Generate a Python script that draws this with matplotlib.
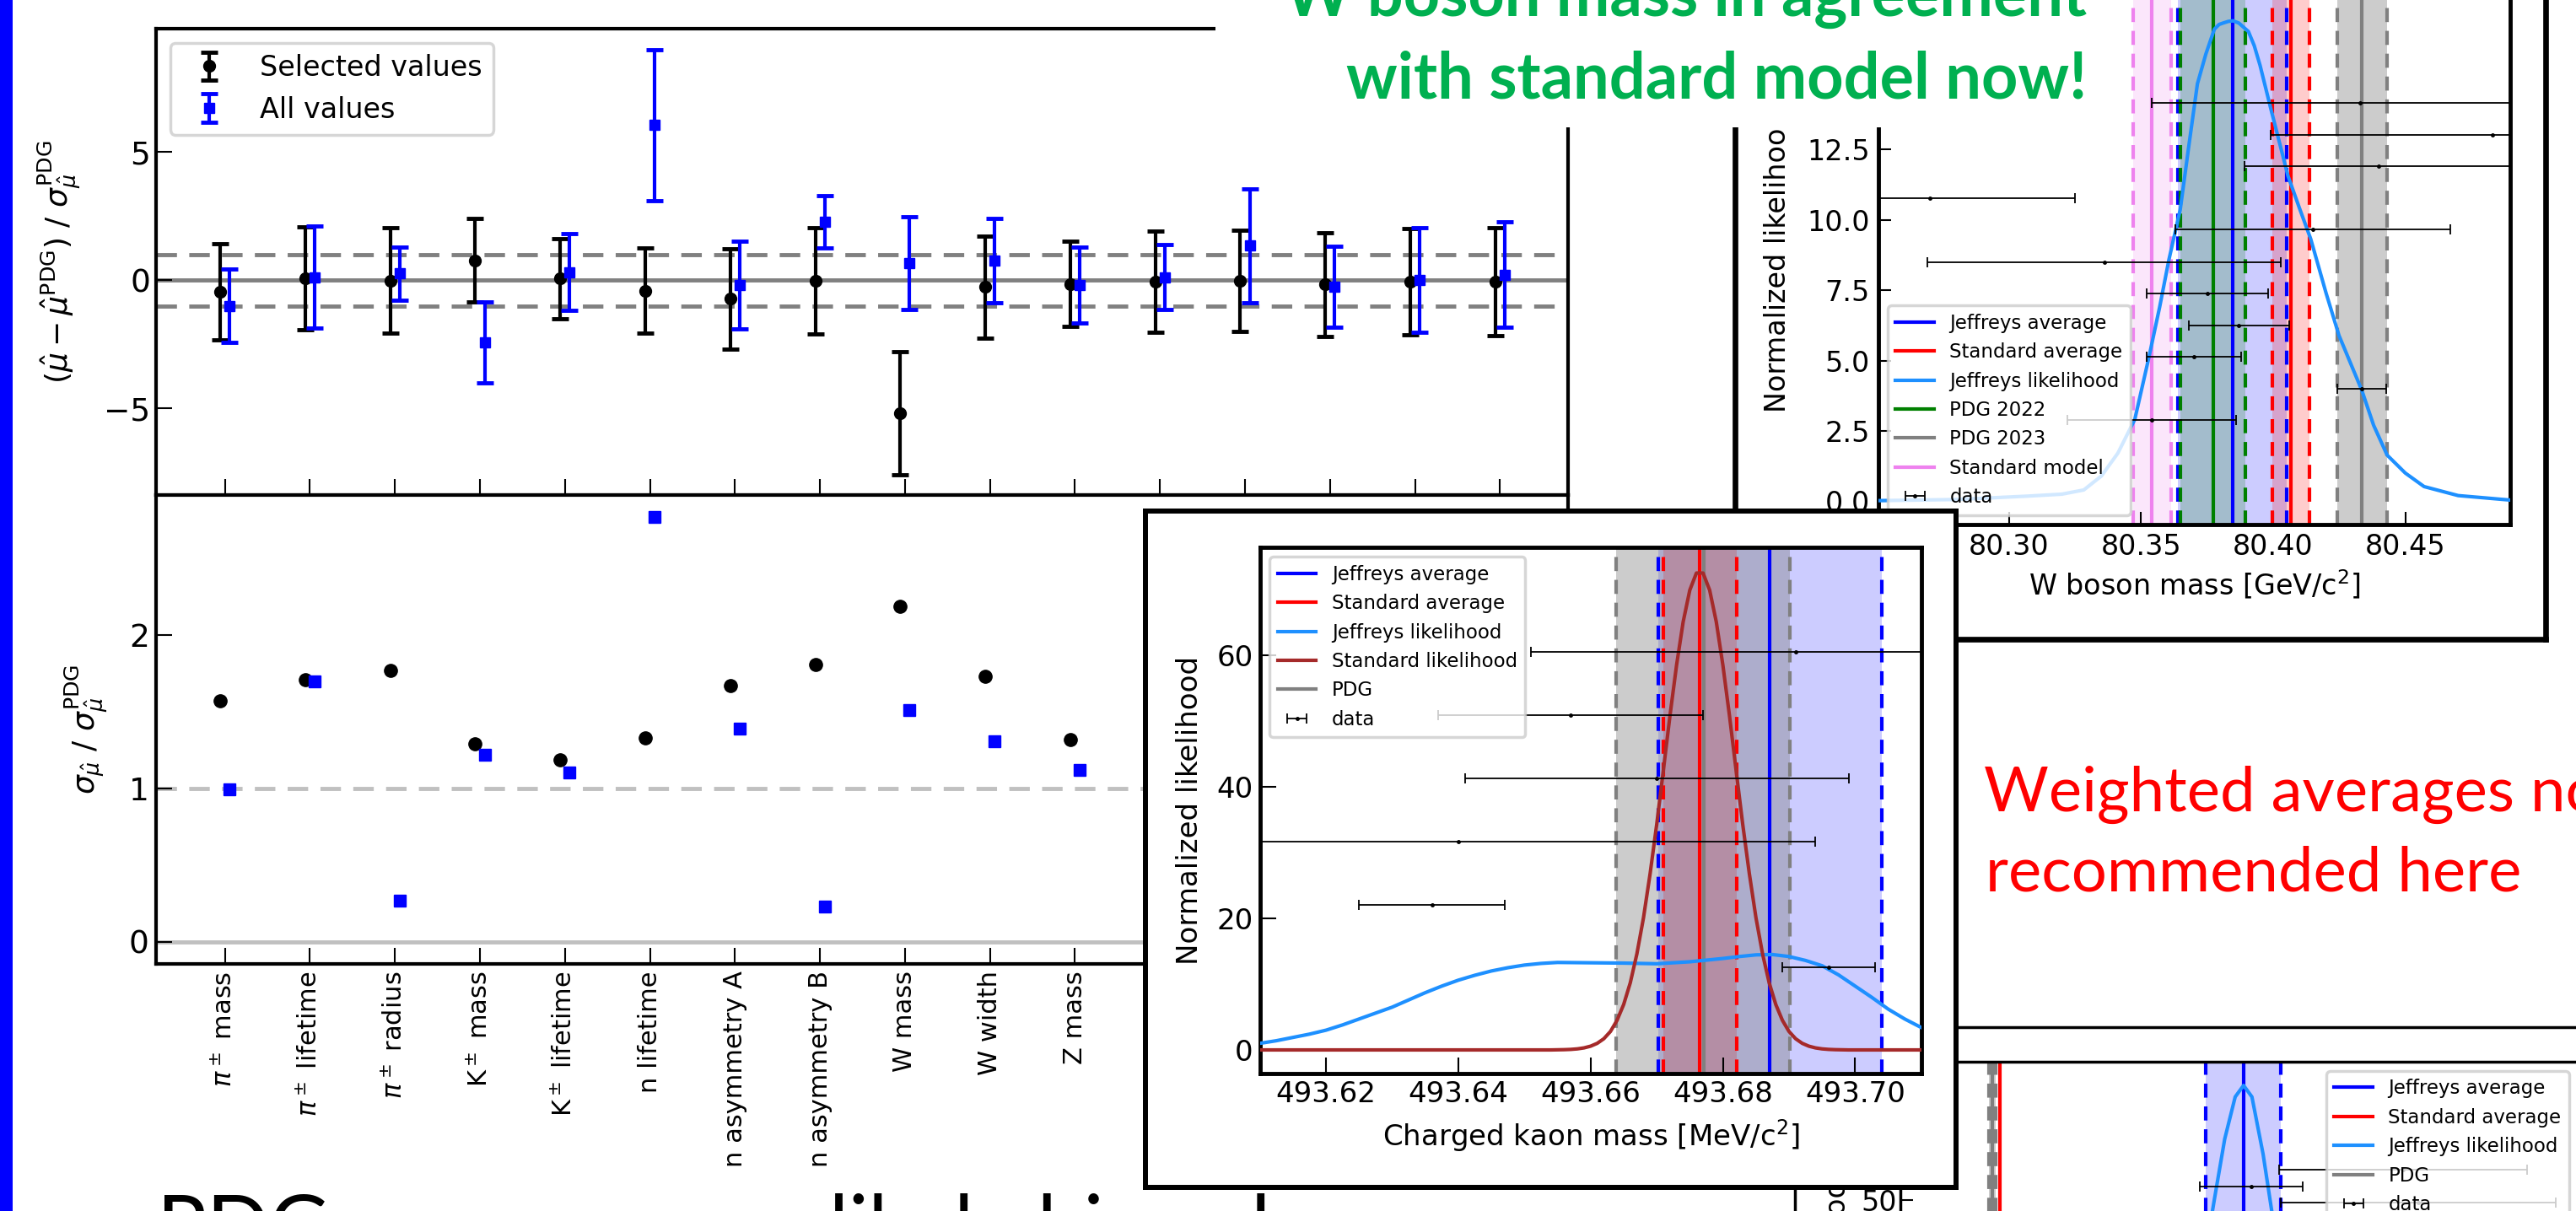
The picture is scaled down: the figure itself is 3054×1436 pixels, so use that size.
import matplotlib
matplotlib.use('Agg')
import matplotlib.pyplot as plt
from matplotlib.patches import Rectangle
from matplotlib.ticker import MultipleLocator, FormatStrFormatter
import numpy as np

plt.rcParams['font.family'] = ['DejaVu Sans']

# ---------------- data: residual panels ----------------
categories = [r'$\pi^\pm$ mass', r'$\pi^\pm$ lifetime', r'$\pi^\pm$ radius', r'K$^\pm$ mass',
              r'K$^\pm$ lifetime', 'n lifetime', 'n asymmetry A', 'n asymmetry B',
              'W mass', 'W width', 'Z mass', '', '', '', '', '']
res_sel = [-0.46, 0.08, -0.02, 0.77, 0.06, -0.41, -0.73, -0.02, -5.18, -0.27, -0.14, -0.05, -0.03, -0.17, -0.05, -0.06]
res_sel_err = [1.87, 2.00, 2.05, 1.63, 1.55, 1.66, 1.96, 2.06, 2.41, 1.99, 1.66, 1.98, 1.98, 2.02, 2.07, 2.11]
res_all = [-1.00, 0.11, 0.26, -2.42, 0.31, 6.05, -0.18, 2.27, 0.67, 0.76, -0.19, 0.12, 1.34, -0.25, 0.00, 0.22]
res_all_err = [1.43, 1.99, 1.04, 1.58, 1.50, 2.94, 1.71, 1.02, 1.81, 1.64, 1.49, 1.27, 2.21, 1.58, 2.03, 2.04]
ratio_sel = [1.57, 1.71, 1.77, 1.29, 1.19, 1.33, 1.67, 1.81, 2.19, 1.73, 1.32]
ratio_all = [0.995, 1.70, 0.27, 1.22, 1.105, 2.77, 1.39, 0.23, 1.51, 1.31, 1.12]

# ---------------- data: W boson mass ----------------
w_meas = [80.433, 80.483, 80.440, 80.270, 80.415, 80.336, 80.375, 80.387, 80.370, 80.4335, 80.354]
w_meas_err = [0.079, 0.084, 0.051, 0.055, 0.052, 0.067, 0.023, 0.019, 0.018, 0.0094, 0.032]
w_meas_y = [14.17, 13.02, 11.90, 10.78, 9.65, 8.50, 7.38, 6.26, 5.14, 4.00, 2.89]
w_like_x = [80.2504, 80.2800, 80.3069, 80.3200, 80.3283, 80.3350, 80.3412, 80.3476, 80.3500, 80.3530,
            80.3570, 80.3605, 80.3648, 80.3680, 80.3713, 80.3745, 80.3777, 80.3795, 80.3810, 80.3830,
            80.3848, 80.3870, 80.3906, 80.3928, 80.3950, 80.3991, 80.4056, 80.4100, 80.4142, 80.4200,
            80.4249, 80.4335, 80.4380, 80.4431, 80.4500, 80.4571, 80.4700, 80.4897]
w_like_y = [0.02, 0.06, 0.18, 0.25, 0.40, 0.9, 1.71, 2.91, 3.9, 5.14,
            6.9, 8.58, 10.37, 12.6, 14.84, 15.9, 16.78, 16.95, 17.0, 17.06,
            17.08, 17.0, 16.70, 16.2, 15.5, 13.95, 11.56, 10.4, 9.32, 7.4,
            5.89, 3.95, 2.7, 1.64, 1.0, 0.52, 0.2, 0.04]
w_sm = [80.3541, 80.3470, 80.3612]      # centre, low, high
w_jeff = [80.3848, 80.3640, 80.4052]
w_pdg22 = [80.3773, 80.3648, 80.3895]
w_std = [80.4067, 80.3998, 80.4137]
w_pdg23 = [80.4335, 80.4243, 80.4431]
w_xticks = [80.30, 80.35, 80.40, 80.45]

# ---------------- data: charged kaon mass ----------------
k_meas = [493.691, 493.657, 493.670, 493.640, 493.636, 493.696]
k_meas_err = [0.040, 0.020, 0.029, 0.054, 0.011, 0.007]
k_meas_y = [60.5, 50.9, 41.3, 31.7, 22.1, 12.5]
k_jeff_like_x = [493.610, 493.6125, 493.615, 493.6175, 493.620, 493.6225, 493.625, 493.6275, 493.630, 493.6325,
                 493.635, 493.6375, 493.640, 493.6425, 493.645, 493.6475, 493.650, 493.6525, 493.655, 493.660,
                 493.665, 493.670, 493.675, 493.680, 493.6825, 493.685, 493.6875, 493.690, 493.6925, 493.695,
                 493.6975, 493.700, 493.7025, 493.705, 493.7075, 493.710]
k_jeff_like_y = [1.0, 1.4, 1.9, 2.4, 3.0, 3.8, 4.7, 5.6, 6.5, 7.6,
                 8.7, 9.7, 10.6, 11.35, 12.0, 12.5, 12.9, 13.15, 13.3, 13.25,
                 13.2, 13.1, 13.4, 13.9, 14.2, 14.45, 14.5, 14.2, 13.6, 12.8,
                 11.4, 9.7, 8.0, 6.2, 4.7, 3.4]
k_std_like_x = [493.610, 493.654, 493.655, 493.656, 493.657, 493.658, 493.659, 493.660, 493.661, 493.662,
                493.663, 493.664, 493.665, 493.666, 493.667, 493.668, 493.669, 493.670, 493.671, 493.672,
                493.673, 493.674, 493.675, 493.676, 493.677, 493.678, 493.679, 493.680, 493.681, 493.682,
                493.683, 493.684, 493.685, 493.686, 493.687, 493.688, 493.689, 493.690, 493.691, 493.692,
                493.693, 493.694, 493.695, 493.696, 493.697, 493.698, 493.699, 493.710]
k_std_like_y = [0.0, 0.0, 0.02, 0.04, 0.08, 0.16, 0.31, 0.57, 1.0, 1.7,
                2.8, 4.5, 6.9, 10.2, 14.6, 20.1, 26.8, 34.3, 42.5, 50.8,
                58.5, 65.1, 69.9, 72.5, 72.5, 69.9, 65.1, 58.5, 50.8, 42.5,
                34.3, 26.8, 20.1, 14.6, 10.2, 6.9, 4.5, 2.8, 1.7, 1.0,
                0.57, 0.31, 0.16, 0.08, 0.04, 0.02, 0.0, 0.0]
k_jeff = [493.6871, 493.6702, 493.7040]
k_std = [493.6765, 493.6710, 493.6821]
k_pdg = [493.6771, 493.6639, 493.6901]
k_xticks = [493.62, 493.64, 493.66, 493.68, 493.70]
k_yticks = [0, 20, 40, 60]

# ---------------- data: bottom-right panel (mostly off-slide) ----------------
b_meas = [72.1, 50.3, 74.2]
b_meas_err = [17.8, 7.4, 19.7]
b_meas_y = [57.9, 53.5, 49.3]
b_like_x = [30, 38, 41, 43, 45, 46.5, 48, 49.2, 50.4, 52, 53.5, 55.5, 58, 66]
b_like_y = [0, 3, 12, 28, 50, 66, 77, 80, 77, 62, 44, 22, 6, 0]
b_jeff = [49.2, 43.8, 54.5]
b_std = 14.3
b_pdg = [13.2, 12.7, 13.7]

# ---------------- slide text ----------------
green_lines = ['W boson mass in agreement', 'with standard model now!']
red_lines = ['Weighted averages not', 'recommended here']
bottom_line = 'PDG averages are likely biased'

# ================= layout helpers =================
W_PX, H_PX, DPI = 3054, 1436, 100
fig = plt.figure(figsize=(W_PX / DPI, H_PX / DPI), dpi=DPI, facecolor='white')


def box(x0, y0, x1, y1):
    return [x0 / W_PX, 1 - y1 / H_PX, (x1 - x0) / W_PX, (y1 - y0) / H_PX]


DASH = (0, (4, 2.5))


def style_axes(ax, spine_lw, tick_len, label_size, pad):
    for s in ax.spines.values():
        s.set_linewidth(spine_lw)
    ax.tick_params(direction='in', length=tick_len, width=1.5, labelsize=label_size, pad=pad)


def frame(rect, lw, z):
    f = fig.add_axes(rect)
    f.set_zorder(z)
    f.set_xticks([])
    f.set_yticks([])
    f.set_facecolor('white')
    for s in f.spines.values():
        s.set_linewidth(lw)
    return f


def band(ax, vals, color, alpha, label):
    c, lo, hi = vals
    ax.axvspan(lo, hi, color=color, alpha=alpha, lw=0, zorder=1)
    ax.axvline(lo, color=color, ls=DASH, lw=3, zorder=2)
    ax.axvline(hi, color=color, ls=DASH, lw=3, zorder=2)
    return ax.axvline(c, color=color, lw=3, zorder=2, label=label)


def style_legend(leg):
    leg.get_frame().set_linewidth(2.5)
    leg.get_frame().set_edgecolor('0.8')


# ================= residual figure (left) =================
ax_top = fig.add_axes(box(185, 34, 1859, 587))
ax_top.set_zorder(1)
ax_bot = fig.add_axes(box(185, 587, 1859, 1143), sharex=ax_top)
ax_bot.set_zorder(1)
x_idx = np.arange(len(categories))
off = 0.055

ax_top.axhline(0, color='gray', lw=3.5, zorder=1)
for v in (-1, 1):
    ax_top.axhline(v, color='gray', lw=3.5, ls=(0, (5, 3)), zorder=1)
ax_top.errorbar(x_idx - off, res_sel, yerr=res_sel_err, fmt='o', color='black', ms=10,
                elinewidth=3, capsize=7.5, capthick=3.5, label='Selected values', zorder=3)
ax_top.errorbar(x_idx + off, res_all, yerr=res_all_err, fmt='s', color='blue', ms=9,
                elinewidth=3, capsize=7.5, capthick=3.5, label='All values', zorder=4)
ax_top.set_xlim(-0.81, 15.80)
ax_top.set_ylim(-8.37, 9.80)
ax_top.set_yticks([-5, 0, 5])
style_axes(ax_top, 3, 14, 27, 5)
ax_top.tick_params(labelbottom=False)
ax_top.set_ylabel(r'$(\hat{\mu} - \hat{\mu}^{\mathrm{PDG}})\ /\ \sigma_{\hat{\mu}}^{\mathrm{PDG}}$', fontsize=26)
ax_top.yaxis.set_label_coords(-0.052, 0.5)
leg = ax_top.legend(loc='upper left', fontsize=24, framealpha=0.8)
style_legend(leg)

ax_bot.axhline(0, color='silver', lw=3.5, zorder=1)
ax_bot.axhline(1, color='silver', lw=3.5, ls=(0, (5, 3)), zorder=1)
xr = np.arange(len(ratio_sel))
ax_bot.plot(xr - off, ratio_sel, 'o', color='black', ms=11, zorder=3)
ax_bot.plot(xr + off, ratio_all, 's', color='blue', ms=10, zorder=4)
ax_bot.set_ylim(-0.143, 2.914)
ax_bot.set_yticks([0, 1, 2])
ax_bot.set_xticks(x_idx)
ax_bot.set_xticklabels(categories, rotation=90)
style_axes(ax_bot, 3, 14, 27, 6)
ax_bot.tick_params(axis='x', labelsize=22)
ax_bot.set_ylabel(r'$\sigma_{\hat{\mu}}\ /\ \sigma_{\hat{\mu}}^{\mathrm{PDG}}$', fontsize=26)
ax_bot.yaxis.set_label_coords(-0.033, 0.5)

# ================= W boson figure (top right) =================
frame(box(2057, -40, 3018, 758), 4.8, 2)
wa = fig.add_axes(box(2226.5, -3, 2976, 622))
wa.set_zorder(3)
h_sm = band(wa, w_sm, 'violet', 0.2, 'Standard model')
h_wj = band(wa, w_jeff, 'blue', 0.2, 'Jeffreys average')
h_p22 = band(wa, w_pdg22, 'green', 0.2, 'PDG 2022')
h_ws = band(wa, w_std, 'red', 0.2, 'Standard average')
h_p23 = band(wa, w_pdg23, 'gray', 0.4, 'PDG 2023')
h_wl, = wa.plot(w_like_x, w_like_y, color='dodgerblue', lw=3, zorder=3, label='Jeffreys likelihood')
h_wd = wa.errorbar(w_meas, w_meas_y, xerr=w_meas_err, fmt='.', color='black', ms=5,
                   elinewidth=1.3, capsize=4.5, capthick=1.3, zorder=4, label='data')
wa.set_xlim(80.2504, 80.4897)
wa.set_ylim(-0.83, 17.91)
wa.set_xticks(w_xticks)
wa.xaxis.set_major_formatter(FormatStrFormatter('%.2f'))
wa.yaxis.set_major_locator(MultipleLocator(2.5))
wa.yaxis.set_major_formatter(FormatStrFormatter('%.1f'))
style_axes(wa, 3.5, 11, 24, 7)
wa.set_xlabel(r'W boson mass [GeV/c$^2$]', fontsize=24)
wa.xaxis.set_label_coords(0.5, -0.082)
wa.set_ylabel('Normalized likelihood', fontsize=24)
wa.yaxis.set_label_coords(-0.137, 0.5)
leg = wa.legend(handles=[h_wj, h_ws, h_wl, h_p22, h_p23, h_sm, h_wd], loc='lower left',
                fontsize=16.5, framealpha=0.8)
style_legend(leg)

# ================= bottom-right figure (mostly off-slide) =================
frame(box(2128, 1218, 3200, 1700), 2.5, 2)
ba = fig.add_axes(box(2253, 1259, 3080, 1668))
ba.set_zorder(3)
h_bj = band(ba, b_jeff, 'blue', 0.2, 'Jeffreys average')
h_bp = band(ba, b_pdg, 'gray', 0.4, 'PDG')
h_bs = ba.axvline(b_std, color='red', lw=3, zorder=2, label='Standard average')
h_bl, = ba.plot(b_like_x, b_like_y, color='dodgerblue', lw=3, zorder=3, label='Jeffreys likelihood')
h_bd = ba.errorbar(b_meas, b_meas_y, xerr=b_meas_err, fmt='.', color='black', ms=5,
                   elinewidth=1.3, capsize=4.5, capthick=1.3, zorder=4, label='data')
ba.set_xlim(0, 100)
ba.set_ylim(-4.1, 86.2)
ba.set_yticks([0, 50])
ba.set_xticks([])
style_axes(ba, 2.5, 11, 24, 3)
ba.set_ylabel('Normalized likelihood', fontsize=24)
ba.yaxis.set_label_coords(-0.070, 0.218)
leg = ba.legend(handles=[h_bj, h_bs, h_bl, h_bp, h_bd], loc='upper left', fontsize=16.5,
                framealpha=0.8, borderaxespad=0,
                bbox_to_anchor=((2758 - 2253) / (3080 - 2253), 1 - (1270 - 1259) / (1668 - 1259)))
style_legend(leg)

# ================= charged kaon figure (middle) =================
frame(box(1358, 606, 2319, 1408), 4.3, 4)
ka = fig.add_axes(box(1494, 649, 2278, 1273))
ka.set_zorder(5)
h_kj = band(ka, k_jeff, 'blue', 0.2, 'Jeffreys average')
h_ks = band(ka, k_std, 'red', 0.25, 'Standard average')
h_kp = band(ka, k_pdg, 'gray', 0.4, 'PDG')
h_kjl, = ka.plot(k_jeff_like_x, k_jeff_like_y, color='dodgerblue', lw=3, zorder=3, label='Jeffreys likelihood')
h_ksl, = ka.plot(k_std_like_x, k_std_like_y, color='brown', lw=3, zorder=3, label='Standard likelihood')
h_kd = ka.errorbar(k_meas, k_meas_y, xerr=k_meas_err, fmt='.', color='black', ms=5,
                   elinewidth=1.3, capsize=4.5, capthick=1.3, zorder=4, label='data')
ka.set_xlim(493.61005, 493.71002)
ka.set_ylim(-3.59, 76.41)
ka.set_xticks(k_xticks)
ka.xaxis.set_major_formatter(FormatStrFormatter('%.2f'))
ka.set_yticks(k_yticks)
style_axes(ka, 3.5, 14, 24.5, 6)
ka.set_xlabel(r'Charged kaon mass [MeV/c$^2$]', fontsize=24.5)
ka.xaxis.set_label_coords(0.5, -0.083)
ka.set_ylabel('Normalized likelihood', fontsize=24.5)
ka.yaxis.set_label_coords(-0.086, 0.5)
leg = ka.legend(handles=[h_kj, h_ks, h_kjl, h_ksl, h_kp, h_kd], loc='upper left',
                fontsize=16.5, framealpha=0.8)
style_legend(leg)

# ================= slide overlays =================
renderer = fig.canvas.get_renderer()


def fitted_size(text, weight, target_w):
    t = fig.text(0, 0, text, fontsize=40, family='Lato', weight=weight)
    w = t.get_window_extent(renderer).width
    t.remove()
    return 40 * target_w / w


# white text box behind the green message
fig.add_artist(Rectangle((1441 / W_PX, 1 - 151 / H_PX), (2497 - 1441) / W_PX, 151 / H_PX + 0.01,
                         transform=fig.transFigure, facecolor='white', edgecolor='none', zorder=6))
fs_g = fitted_size(green_lines[1], 'bold', 878)
for line, ybase in zip(green_lines, (19, 116.7)):
    fig.text(2474 / W_PX, 1 - ybase / H_PX, line, ha='right', va='baseline', color='#00b050',
             fontsize=fs_g, family='Lato', weight='bold', zorder=7)

fs_r = fitted_size(red_lines[1], 'normal', 634)
for line, xl, ybase in zip(red_lines, (2352, 2354), (961.7, 1056.7)):
    fig.text(xl / W_PX, 1 - ybase / H_PX, line, ha='left', va='baseline', color='red',
             fontsize=fs_r, family='Lato', zorder=7)

# slide line below the figures: only the tops of its capitals/ascenders show at the bottom edge
fs_b = fitted_size('PDG', 'normal', 205)
ybase_b = 1418 + 0.7165 * fs_b * DPI / 72
fig.text(186 / W_PX, 1 - ybase_b / H_PX, bottom_line, ha='left', va='baseline', color='black',
         fontsize=fs_b, family='Lato', zorder=7)

# blue accent bar on the slide's left edge
fig.add_artist(Rectangle((0, 0), 15 / W_PX, 1, transform=fig.transFigure,
                         facecolor='blue', edgecolor='none', zorder=8))

fig.savefig('out.png', dpi=DPI)
